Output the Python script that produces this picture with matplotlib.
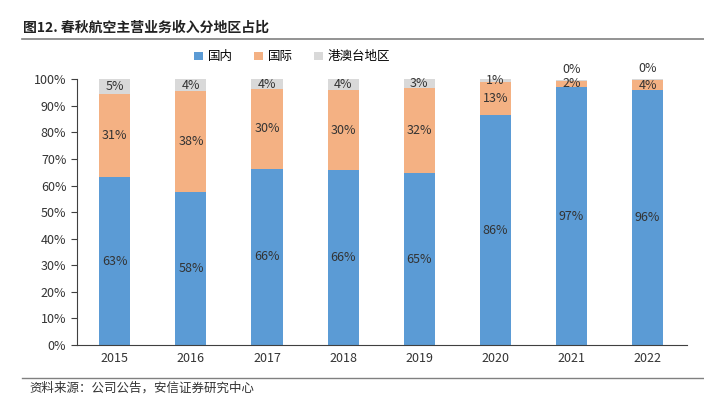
import numpy as np
import matplotlib.pyplot as plt

plt.rcParams['font.family'] = ['Noto Sans CJK SC', 'DejaVu Sans']

# 春秋航空主营业务收入分地区占比 (%)
years = ["2015", "2016", "2017", "2018", "2019", "2020", "2021", "2022"]
domestic = [63.2, 57.7, 66.4, 65.7, 64.6, 86.4, 97.0, 95.8]
international = [31.4, 37.8, 29.9, 30.1, 32.1, 12.7, 2.5, 4.0]
hk_mo_tw = [5.4, 4.5, 3.7, 4.2, 3.3, 0.9, 0.3, 0.2]

c_dom = "#5B9BD5"
c_int = "#F4B183"
c_hk = "#D9D9D9"

fig = plt.figure(figsize=(7.04, 3.98), dpi=100)
ax = fig.add_axes([0.109, 0.133, 0.867, 0.668])

x = np.arange(len(years))
w = 0.41
dom = np.array(domestic)
intl = np.array(international)
hk = np.array(hk_mo_tw)

ax.bar(x, dom, w, color=c_dom, label="国内")
ax.bar(x, intl, w, bottom=dom, color=c_int, label="国际")
ax.bar(x, hk, w, bottom=dom + intl, color=c_hk, label="港澳台地区")

fs = 9
for i in range(len(years)):
    ax.text(x[i], dom[i] / 2, f"{round(dom[i]):.0f}%", ha="center", va="center", fontsize=fs, color="#333333")
    ax.text(x[i], dom[i] + intl[i] / 2, f"{round(intl[i]):.0f}%", ha="center", va="center", fontsize=fs, color="#333333")
    if round(hk[i]) == 0:
        ax.text(x[i], dom[i] + intl[i] + hk[i] + 1.5, f"{round(hk[i]):.0f}%", ha="center", va="bottom", fontsize=fs, color="#333333")
    else:
        ax.text(x[i], dom[i] + intl[i] + hk[i] / 2, f"{round(hk[i]):.0f}%", ha="center", va="center", fontsize=fs, color="#333333")

ax.set_xlim(-0.5, 7.52)
ax.set_ylim(0, 100)
ax.set_yticks(np.arange(0, 101, 10))
ax.set_yticklabels([f"{v}%" for v in range(0, 101, 10)])
ax.set_xticks(x)
ax.set_xticklabels(years)
ax.tick_params(axis="y", labelsize=9, length=4, color="#404040", labelcolor="#333333")
ax.tick_params(axis="x", labelsize=9, length=0, pad=5, labelcolor="#333333")
for s in ["top", "right"]:
    ax.spines[s].set_visible(False)
ax.spines["left"].set_color("#404040")
ax.spines["bottom"].set_color("#404040")

fig.legend(loc="center", bbox_to_anchor=(0.415, 0.857), ncol=3, frameon=False,
           fontsize=9, handlelength=0.7, handleheight=0.7, columnspacing=1.7, handletextpad=0.4)

fig.text(0.033, 0.93, "图12. 春秋航空主营业务收入分地区占比", fontsize=10, fontweight="bold",
         color="#222222", ha="left", va="center")
fig.add_artist(plt.Line2D([0.031, 1.0], [0.902, 0.902], color="#808080", lw=1.2))
fig.add_artist(plt.Line2D([0.031, 1.0], [0.05, 0.05], color="#808080", lw=1.0))
fig.text(0.042, 0.025, "资料来源：公司公告，安信证券研究中心", fontsize=9, style="italic",
         color="#333333", ha="left", va="center")

fig.savefig("out.png", dpi=100)
